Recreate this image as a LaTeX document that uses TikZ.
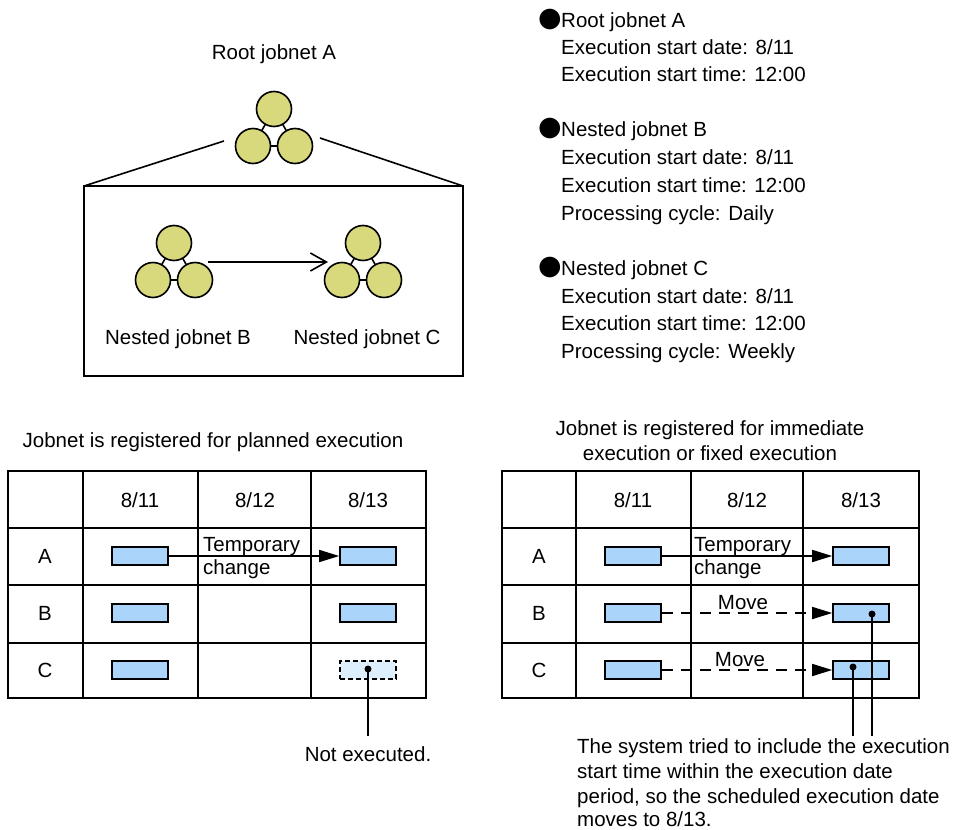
\documentclass[tikz,border=0pt]{standalone}
\usepackage{fontspec}
\setmainfont{Liberation Sans}
\newfontfamily\symfont{DejaVu Sans}
\usetikzlibrary{arrows.meta}
\definecolor{jnfill}{HTML}{D8D87C}
\definecolor{barfill}{HTML}{AAD4FA}
\definecolor{ghostfill}{HTML}{DDEEFD}
\tikzset{
  txt/.style={font=\fontsize{20.5}{26}\selectfont, inner sep=0pt},
  conn/.style={line width=1.6pt},
  gridline/.style={line width=1.6pt},
  jcirc/.style={circle, draw, line width=1.6pt, fill=jnfill, minimum size=35pt, inner sep=0pt},
  bar/.style={draw, line width=1.6pt, fill=barfill, minimum width=56pt, minimum height=18pt, inner sep=0pt},
  ghost/.style={draw, dash pattern=on 5pt off 3pt, line width=1.6pt, fill=ghostfill, minimum width=56pt, minimum height=18pt, inner sep=0pt},
  dotmark/.style={circle, fill=black, inner sep=0pt, minimum size=7pt},
  arr/.style={line width=1.6pt, -{Triangle[length=20pt,width=12pt]}},
  darr/.style={line width=1.6pt, dash pattern=on 11pt off 8pt, -{Triangle[length=20pt,width=12pt]}},
  openarr/.style={line width=1.6pt, -{Straight Barb[length=16pt,width=18pt,line width=1.6pt]}},
  jobnet/.pic={
    \draw[conn] (0,0) -- (-21,37) -- (21,37) -- cycle;
    \node[jcirc] (-t) at (0,0) {};
    \node[jcirc] (-l) at (-21,37) {};
    \node[jcirc] (-r) at (21,37) {};
  },
  bullet/.style={font=\symfont\fontsize{27}{27}\selectfont, inner sep=0pt}
}
\begin{document}
\begin{tikzpicture}[x=1pt,y=-1pt]
\useasboundingbox (0,0) rectangle (967,830);
\fill[white] (0,0) rectangle (967,830);

% ---------- top: jobnet structure ----------
\node[txt, anchor=base] (rootlbl) at (274,59) {Root jobnet A};
\pic (rootA) at (274,109) {jobnet};
\coordinate (fanL) at (224,141);
\coordinate (fanR) at (320,138);
\coordinate (boxTL) at (84,186);
\coordinate (boxTR) at (463,186);
\coordinate (boxBR) at (463,376);
\draw[conn] (fanL) -- (boxTL);
\draw[conn] (fanR) -- (boxTR);
\draw[conn] (boxTL) rectangle (boxBR);

\pic (nB) at (174,243) {jobnet};
\pic (nC) at (363,243) {jobnet};
\coordinate (arrS) at (208,262);
\coordinate (arrE) at (328,262);
\draw[openarr] (arrS) -- (arrE);
\node[txt, anchor=base] (lblB) at (178,344) {Nested jobnet B};
\node[txt, anchor=base] (lblC) at (367,344) {Nested jobnet C};

% ---------- top right: settings ----------
\node[bullet] (b1) at (550,20) {●};
\node[txt, anchor=base west] (t1) at (561,27) {Root jobnet A};
\node[txt, anchor=base west] (t2) at (561,54) {Execution start date: 8/11};
\node[txt, anchor=base west] (t3) at (561,81) {Execution start time: 12:00};
\node[bullet] (b2) at (550,129) {●};
\node[txt, anchor=base west] (t4) at (561,136) {Nested jobnet B};
\node[txt, anchor=base west] (t5) at (561,164) {Execution start date: 8/11};
\node[txt, anchor=base west] (t6) at (561,192) {Execution start time: 12:00};
\node[txt, anchor=base west] (t7) at (561,220) {Processing cycle: Daily};
\node[bullet] (b3) at (550,268) {●};
\node[txt, anchor=base west] (t8) at (561,275) {Nested jobnet C};
\node[txt, anchor=base west] (t9) at (561,303) {Execution start date: 8/11};
\node[txt, anchor=base west] (t10) at (561,330) {Execution start time: 12:00};
\node[txt, anchor=base west] (t11) at (561,358) {Processing cycle: Weekly};

% ---------- left table ----------
\node[txt, anchor=base] (ltitle) at (213,447) {Jobnet is registered for planned execution};
\draw[gridline] (8,471) rectangle (426,698);
\foreach \x in {83,198,311} \draw[gridline] (\x,471) -- (\x,698);
\foreach \y in {528,585,643} \draw[gridline] (8,\y) -- (426,\y);
\node[txt, anchor=base] (lh1) at (140,507) {8/11};
\node[txt, anchor=base] (lh2) at (255,507) {8/12};
\node[txt, anchor=base] (lh3) at (368,507) {8/13};
\node[txt, anchor=base] (lrA) at (45,563) {A};
\node[txt, anchor=base] (lrB) at (45,620) {B};
\node[txt, anchor=base] (lrC) at (45,677) {C};
\node[bar] (LA1) at (140,556) {};
\node[bar] (LA3) at (368,556) {};
\node[bar] (LB1) at (140,613) {};
\node[bar] (LB3) at (368,613) {};
\node[bar] (LC1) at (140,670) {};
\node[ghost] (LC3) at (368,670) {};
\draw[arr] (LA1) -- (LA3);
\node[txt, anchor=base west] (ltmp1) at (203,551) {Temporary};
\node[txt, anchor=base west] (ltmp2) at (203,574) {change};
\node[dotmark] (LCd) at (368,669) {};
\coordinate (LCend) at (368,736);
\draw[conn] (LCd.center) -- (LCend);
\node[txt, anchor=base] (notexec) at (368,761) {Not executed.};

% ---------- right table ----------
\node[txt, anchor=base] (rtitle1) at (710,435) {Jobnet is registered for immediate};
\node[txt, anchor=base] (rtitle2) at (710,460) {execution or fixed execution};
\draw[gridline] (502,471) rectangle (919,698);
\foreach \x in {576,691,803} \draw[gridline] (\x,471) -- (\x,698);
\foreach \y in {528,585,643} \draw[gridline] (502,\y) -- (919,\y);
\node[txt, anchor=base] (rh1) at (633,507) {8/11};
\node[txt, anchor=base] (rh2) at (747,507) {8/12};
\node[txt, anchor=base] (rh3) at (861,507) {8/13};
\node[txt, anchor=base] (rrA) at (539,563) {A};
\node[txt, anchor=base] (rrB) at (539,620) {B};
\node[txt, anchor=base] (rrC) at (539,677) {C};
\node[bar] (RA1) at (633,556) {};
\node[bar] (RA3) at (861,556) {};
\node[bar] (RB1) at (633,613) {};
\node[bar] (RB3) at (861,613) {};
\node[bar] (RC1) at (633,670) {};
\node[bar] (RC3) at (861,670) {};
\draw[arr] (RA1) -- (RA3);
\node[txt, anchor=base west] (rtmp1) at (694,551) {Temporary};
\node[txt, anchor=base west] (rtmp2) at (694,574) {change};
\draw[darr] (RB1) -- (RB3);
\draw[darr] (RC1) -- (RC3);
\node[txt, anchor=base] (mvB) at (743,609) {Move};
\node[txt, anchor=base] (mvC) at (740,666) {Move};
\node[dotmark] (RBd) at (872,614) {};
\node[dotmark] (RCd) at (853,667) {};
\coordinate (RBend) at (872,736);
\coordinate (RCend) at (853,736);
\draw[conn] (RBd.center) -- (RBend);
\draw[conn] (RCd.center) -- (RCend);
\node[txt, anchor=base west] (note1) at (577,753) {The system tried to include the execution};
\node[txt, anchor=base west] (note2) at (577,778) {start time within the execution date};
\node[txt, anchor=base west] (note3) at (577,803) {period, so the scheduled execution date};
\node[txt, anchor=base west] (note4) at (577,826) {moves to 8/13.};
\end{tikzpicture}
\end{document}
